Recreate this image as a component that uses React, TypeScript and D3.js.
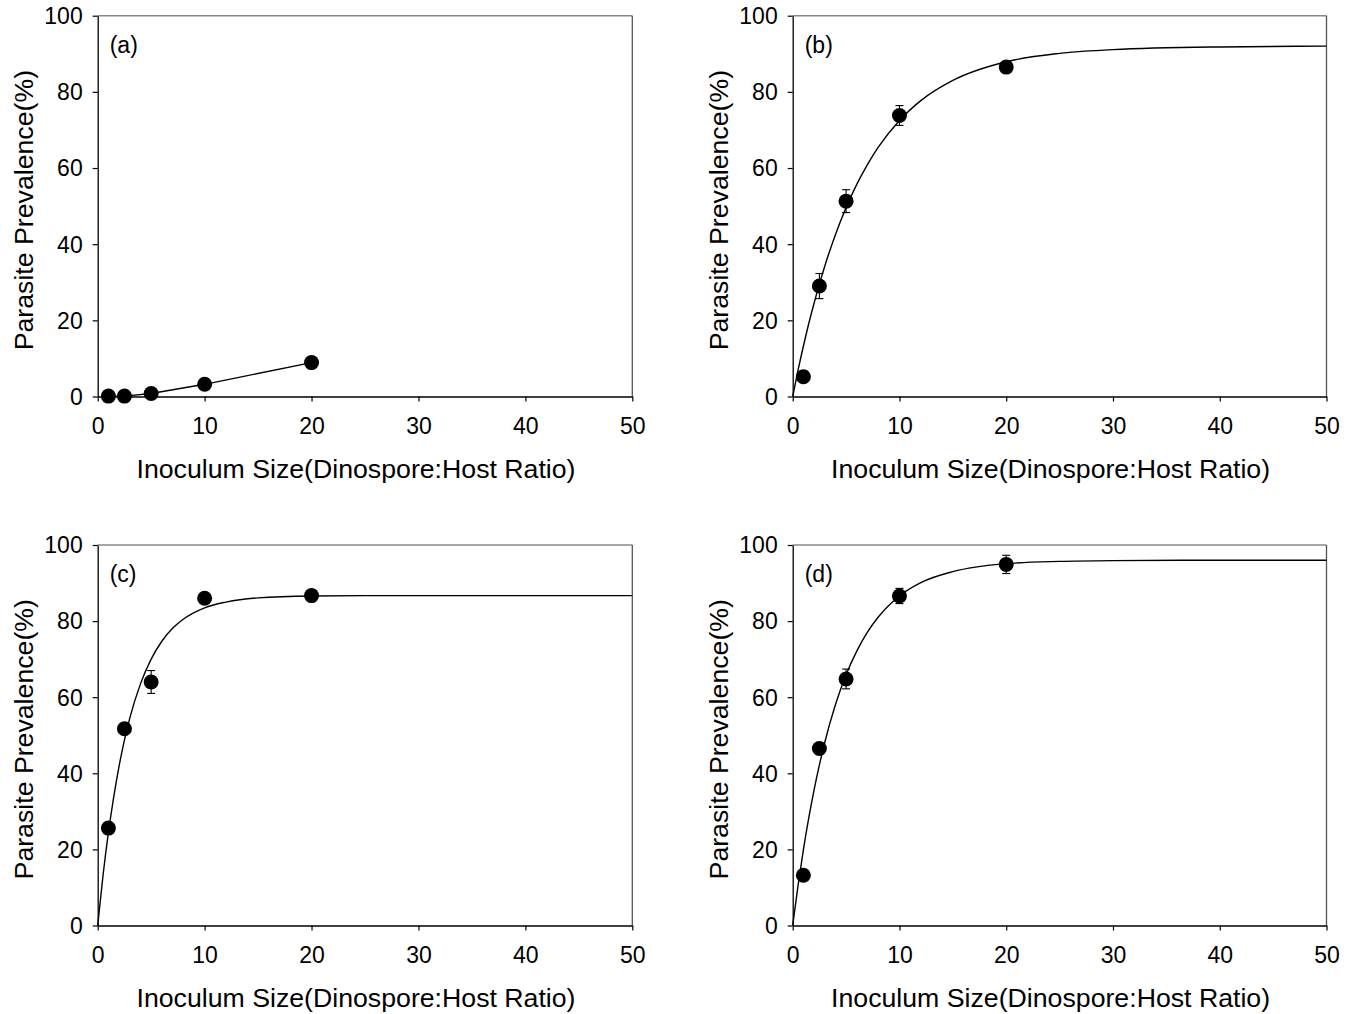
import { useEffect, useRef } from "react";
import * as d3 from "d3";

// inoculum sizes used in every panel
const doseRatios = [1, 2.5, 5, 10, 20];

// mean prevalence (%) and error bars per panel
const prevalenceA = [0.1, 0.1, 0.8, 3.2, 8.9];
const errorA = [0, 0, 0, 0.5, 1.5];
const prevalenceB = [5.2, 29.0, 51.3, 73.8, 86.5];
const errorB = [1.5, 3.3, 3.0, 2.6, 0.8];
const prevalenceC = [25.6, 51.7, 64.0, 86.0, 86.7];
const errorC = [0.5, 0.5, 3.0, 0.5, 0.8];
const prevalenceD = [13.2, 46.5, 64.8, 86.6, 94.9];
const errorD = [0.8, 1.5, 2.6, 2.0, 2.4];

// fitted curves
const fitX = [0, 0.5, 1, 1.5, 2, 2.5, 3, 4, 5, 6, 7, 8, 10, 12, 15, 20, 25, 30, 40, 50];
const fitB = [0, 6.9, 13.2, 19.1, 24.5, 29.5, 34.2, 42.5, 49.6, 55.7, 60.9, 65.4, 72.5, 77.7, 83.0, 87.9, 90.1, 91.1, 91.8, 92.0];
const fitC = [0, 13.2, 24.4, 33.8, 41.9, 48.7, 54.5, 63.5, 70.0, 74.7, 78.1, 80.5, 83.5, 85.0, 86.1, 86.6, 86.7, 86.7, 86.7, 86.7];
const fitD = [0, 10.5, 19.9, 28.2, 35.6, 42.2, 48.1, 58.0, 65.9, 72.1, 77.1, 81.0, 86.6, 90.1, 93.0, 95.1, 95.7, 95.9, 96.0, 96.0];

const xTicks = [0, 10, 20, 30, 40, 50];
const yTicks = [0, 20, 40, 60, 80, 100];
const panelLabels = ["(a)", "(b)", "(c)", "(d)"];

const xTitle = "Inoculum Size(Dinospore:Host Ratio)";
const yTitle = "Parasite Prevalence(%)";

const FONT = "'Liberation Sans', Arial, Helvetica, sans-serif";

const panels = [
  { label: panelLabels[0], values: prevalenceA, errors: errorA, fit: null },
  { label: panelLabels[1], values: prevalenceB, errors: errorB, fit: fitB },
  { label: panelLabels[2], values: prevalenceC, errors: errorC, fit: fitC },
  { label: panelLabels[3], values: prevalenceD, errors: errorD, fit: fitD },
];

export default function App() {
  const svgRef = useRef<SVGSVGElement>(null);

  useEffect(() => {
    const svg = d3.select(svgRef.current);
    svg.selectAll("*").remove();

    panels.forEach((p, i) => {
      const col = i % 2;
      const row = Math.floor(i / 2);
      const left = col ? 792.7 : 97.7;
      const right = col ? 1326.5 : 632.3;
      const bottom = row ? 925.5 : 396.5;
      const top = row ? 545 : 15.7;

      const x = d3.scaleLinear().domain([0, 50]).range([left, right]);
      const y = d3.scaleLinear().domain([0, 100]).range([bottom, top]);

      const g = svg.append("g");

      // frame (top + right)
      g.append("line")
        .attr("x1", left).attr("x2", right)
        .attr("y1", top).attr("y2", top)
        .attr("stroke", "#888").attr("stroke-width", 1.6);
      g.append("line")
        .attr("x1", right).attr("x2", right)
        .attr("y1", top).attr("y2", bottom)
        .attr("stroke", "#555").attr("stroke-width", 1.3);

      const xAxis = g.append("g")
        .attr("transform", `translate(0,${bottom})`)
        .call(
          d3.axisBottom(x)
            .tickValues(xTicks)
            .tickSize(5)
            .tickSizeOuter(0)
            .tickPadding(16)
            .tickFormat(d3.format("d"))
        );

      const yAxis = g.append("g")
        .attr("transform", `translate(${left},0)`)
        .call(
          d3.axisLeft(y)
            .tickValues(yTicks)
            .tickSize(5)
            .tickSizeOuter(0)
            .tickPadding(10)
            .tickFormat(d3.format("d"))
        );

      [xAxis, yAxis].forEach((ax) => {
        ax.attr("font-family", FONT).attr("font-size", 23);
        ax.select(".domain").attr("stroke", "#000").attr("stroke-width", 1.3);
        ax.selectAll(".tick line").attr("stroke", "#000").attr("stroke-width", 1.2);
        ax.selectAll(".tick text").attr("fill", "#000");
      });
      yAxis.selectAll(".tick text").attr("dy", "0.34em");

      // axis titles
      g.append("text")
        .attr("x", (left + right) / 2 - 9)
        .attr("y", bottom + 81)
        .attr("text-anchor", "middle")
        .attr("font-family", FONT)
        .attr("font-size", 26.7)
        .text(xTitle);

      g.append("text")
        .attr("transform", `translate(${left - 65},${(top + bottom) / 2 + 4}) rotate(-90)`)
        .attr("text-anchor", "middle")
        .attr("font-family", FONT)
        .attr("font-size", 26.7)
        .text(yTitle);

      // panel label
      g.append("text")
        .attr("x", left + 12)
        .attr("y", top + 37)
        .attr("font-family", FONT)
        .attr("font-size", 23)
        .text(p.label);

      const pts = doseRatios.map((d, k) => ({ d, v: p.values[k], e: p.errors[k] }));

      // fitted curve, or joined points for panel (a)
      if (p.fit) {
        const fitLine = d3.line<number>()
          .x((_, k) => x(fitX[k]))
          .y((v) => y(v))
          .curve(d3.curveMonotoneX);
        g.append("path")
          .attr("d", fitLine(p.fit))
          .attr("fill", "none")
          .attr("stroke", "#000")
          .attr("stroke-width", 1.4);
      } else {
        const joined = d3.line<{ d: number; v: number }>()
          .x((q) => x(q.d))
          .y((q) => y(q.v));
        g.append("path")
          .attr("d", joined(pts))
          .attr("fill", "none")
          .attr("stroke", "#000")
          .attr("stroke-width", 1.4);
      }

      // error bars
      const eb = g.append("g").attr("stroke", "#000").attr("stroke-width", 1.1);
      pts.filter((q) => q.e > 0).forEach((q) => {
        const cx = x(q.d);
        const y1 = y(q.v + q.e);
        const y2 = y(q.v - q.e);
        eb.append("line").attr("x1", cx).attr("x2", cx).attr("y1", y1).attr("y2", y2);
        eb.append("line").attr("x1", cx - 4).attr("x2", cx + 4).attr("y1", y1).attr("y2", y1);
        eb.append("line").attr("x1", cx - 4).attr("x2", cx + 4).attr("y1", y2).attr("y2", y2);
      });

      g.append("g")
        .selectAll("circle")
        .data(pts)
        .enter()
        .append("circle")
        .attr("cx", (q) => x(q.d))
        .attr("cy", (q) => y(q.v))
        .attr("r", 7.5)
        .attr("fill", "#000");
    });
  }, []);

  return (
    <svg
      ref={svgRef}
      width={1355}
      height={1014}
      style={{ position: "absolute", left: 0, top: 0, background: "#fff" }}
    />
  );
}
